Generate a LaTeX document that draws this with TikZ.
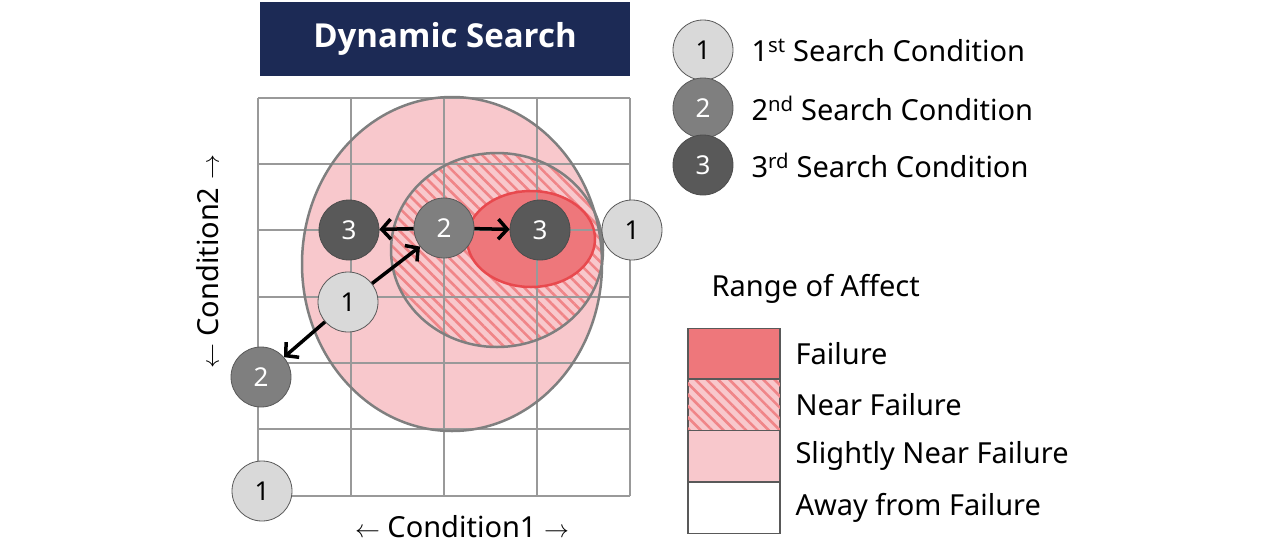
\documentclass[tikz,border=0pt]{standalone}
\usepackage{fontspec}
\setmainfont{Noto Sans}
\newfontfamily\titlefont{Open Sans}
\usetikzlibrary{patterns.meta,arrows.meta}
\definecolor{navy}{HTML}{1C2A55}
\definecolor{pinkf}{HTML}{F8C8CC}
\definecolor{redf}{HTML}{EE777B}
\definecolor{redl}{HTML}{E8494E}
\definecolor{gl}{HTML}{D9D9D9}
\definecolor{gm}{HTML}{7F7F7F}
\definecolor{gd}{HTML}{595959}
\tikzset{
  x=1pt,y=-1pt,
  c/.style={circle,minimum size=60pt,inner sep=0pt,draw=gd,line width=0.8pt,font=\fontsize{26}{26}\selectfont},
  c1/.style={c,fill=gl,text=black},
  c2/.style={c,fill=gm,text=white},
  c3/.style={c,fill=gd,text=white,draw=black!70},
  ar/.style={line width=3.5pt,-{Straight Barb[length=9pt,width=20pt,line width=3.5pt]}},
  lbl/.style={anchor=west,font=\fontsize{29}{29}\selectfont},
  hatch/.style={pattern={Lines[angle=-45,distance=8pt,line width=2.6pt]},pattern color=redf!90}
}
\begin{document}
\begin{tikzpicture}
\useasboundingbox (0,0) rectangle (1284,544);
\fill[pinkf] (452,264) ellipse [x radius=150,y radius=167];
\fill[pinkf] (497,250) ellipse [x radius=106,y radius=97];
\fill[hatch] (497,250) ellipse [x radius=106,y radius=97];
\fill[redf] (531,239) ellipse [x radius=64,y radius=48];
\foreach \x in {258,351,444,537,630} \draw[gray!80,line width=1.3pt] (\x,98) -- (\x,496);
\foreach \y in {98,164,230,297,363,429,496} \draw[gray!80,line width=1.3pt] (258,\y) -- (630,\y);
\draw[gm,line width=2.5pt] (452,264) ellipse [x radius=150,y radius=167];
\draw[gm,line width=2.5pt] (497,250) ellipse [x radius=106,y radius=97];
\draw[redl,line width=2.5pt] (531,239) ellipse [x radius=64,y radius=48];
\node[fill=navy,text=white,minimum width=370pt,minimum height=74pt,inner sep=0pt,font=\fontsize{33}{33}\titlefont\bfseries] (title) at (445,39) {Dynamic Search};
\node[c3] (a3) at (349,230) {3};
\node[c2] (b2) at (444,228) {2};
\node[c3] (b3) at (540,230) {3};
\node[c1] (r1) at (632,230) {1};
\node[c1] (m1) at (348,302) {1};
\node[c2] (l2) at (261,377) {2};
\node[c1] (o1) at (262,491) {1};
\draw[ar] (b2) -- (a3);
\draw[ar] (b2) -- (b3);
\draw[ar] (m1) -- (b2);
\draw[ar] (m1) -- (l2);
\node[font=\fontsize{29}{29}\selectfont] (ax1) at (462,527) {$\leftarrow$ Condition1 $\rightarrow$};
\node[font=\fontsize{29}{29}\selectfont,rotate=90] (ax2) at (208,262) {$\leftarrow$ Condition2 $\rightarrow$};
\node[c1] (k1) at (703,50) {1};
\node[c2] (k2) at (703,108) {2};
\node[c3] (k3) at (703,165) {3};
\node[lbl] (t1) at (748,50) {1\textsuperscript{st} Search Condition};
\node[lbl] (t2) at (748,108) {2\textsuperscript{nd} Search Condition};
\node[lbl] (t3) at (748,165) {3\textsuperscript{rd} Search Condition};
\node[lbl] (rt) at (708,289) {Range of Affect};
\node[draw=gd,line width=1.3pt,fill=redf,minimum width=92pt,minimum height=51pt,inner sep=0pt] (f1) at (734,354) {};
\node[draw=gd,line width=1.3pt,fill=pinkf,minimum width=92pt,minimum height=51pt,inner sep=0pt] (f2) at (734,405) {};
\fill[hatch] (f2.south west) rectangle (f2.north east);
\draw[gd,line width=1.3pt] (f2.south west) rectangle (f2.north east);
\node[draw=gd,line width=1.3pt,fill=pinkf,minimum width=92pt,minimum height=51pt,inner sep=0pt] (f3) at (734,456) {};
\node[draw=gd,line width=1.3pt,fill=white,minimum width=92pt,minimum height=51pt,inner sep=0pt] (f4) at (734,508) {};
\node[lbl] (u1) at (792,354) {Failure};
\node[lbl] (u2) at (792,405) {Near Failure};
\node[lbl] (u3) at (792,456) {Slightly Near Failure};
\node[lbl] (u4) at (792,508) {Away from Failure};
\end{tikzpicture}
\end{document}
